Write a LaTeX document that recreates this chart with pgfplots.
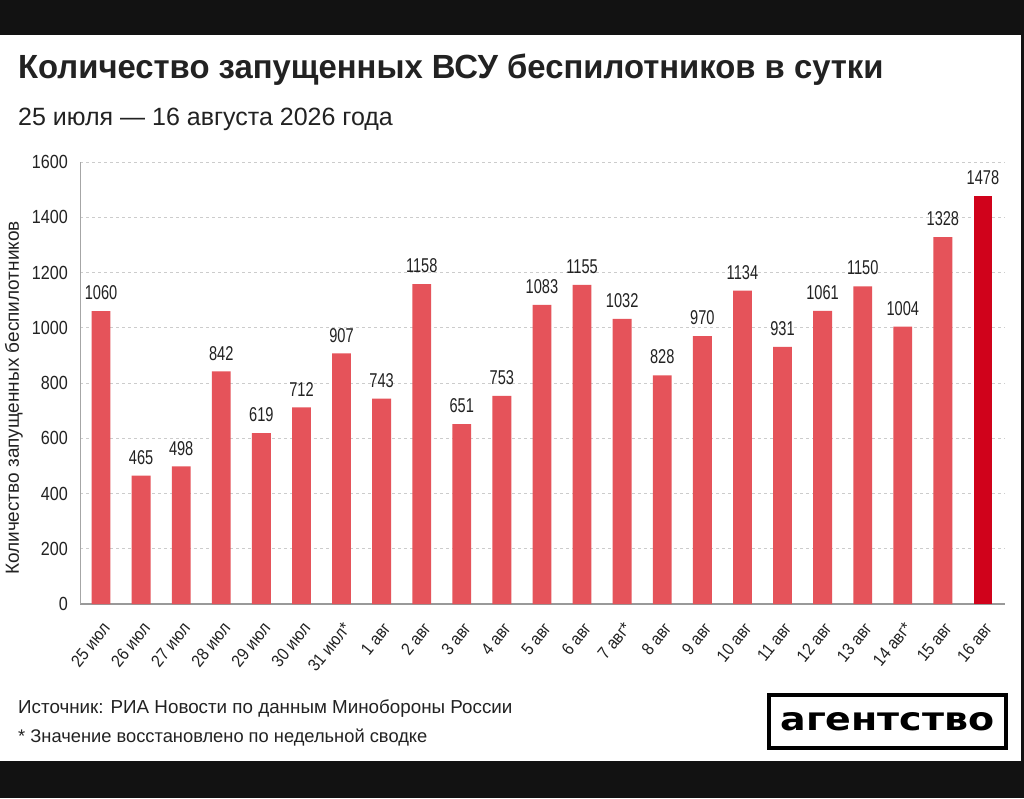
\documentclass[border=0pt]{standalone}
\usepackage{pgfplots}
\pgfplotsset{compat=1.18}
\usepackage{fontspec}
\setmainfont{Liberation Sans}
\newfontfamily\titlefont[FakeStretch=0.98]{Liberation Sans}
\newfontfamily\subfont{Liberation Sans}
\newfontfamily\condfont[FakeStretch=0.73]{Liberation Sans}
\newfontfamily\tickfont[FakeStretch=0.85]{Liberation Sans}
\newfontfamily\xtickfont[FakeStretch=0.88]{Liberation Sans}
\newfontfamily\logofont{DejaVu Sans}
\definecolor{barred}{HTML}{E5535A}
\definecolor{darkred}{HTML}{D0021B}
\definecolor{txt}{HTML}{222222}
\pgfplotstableread{
x y
0 1060
1 465
2 498
3 842
4 619
5 712
6 907
7 743
8 1158
9 651
10 753
11 1083
12 1155
13 1032
14 828
15 970
16 1134
17 931
18 1061
19 1150
20 1004
21 1328
}\maindata
\pgfplotstableread{
x y
22 1478
}\lastdata
\begin{document}
\begin{tikzpicture}
\path[use as bounding box] (0pt,0pt) rectangle (1024pt,798pt);
\fill[black!93] (0pt,0pt) rectangle (1024pt,798pt);
\fill[white] (0pt,37pt) rectangle (1021pt,763pt);
\begin{axis}[
  at={(80pt,194pt)}, anchor=south west,
  scale only axis, width=925pt, height=442pt,
  xmin=-0.524, xmax=22.55, ymin=0, ymax=1600,
  axis x line*=bottom, axis y line*=left,
  x axis line style={draw=black!40, line width=1.6pt, -},
  y axis line style={draw=black!35, line width=1pt, -},
  ytick={0,200,...,1600},
  xtick={0,...,22},
  xticklabels={25 июл,26 июл,27 июл,28 июл,29 июл,30 июл,31 июл*,1 авг,2 авг,3 авг,4 авг,5 авг,6 авг,7 авг*,8 авг,9 авг,10 авг,11 авг,12 авг,13 авг,14 авг*,15 авг,16 авг},
  major tick length=0pt,
  ymajorgrids,
  grid style={draw=black!20, line width=0.7pt, dash pattern=on 3pt off 3pt},
  /pgf/number format/assume math mode=true,
  /pgf/number format/1000 sep={},
  yticklabel style={font=\tickfont\fontsize{19}{22}\selectfont, text=txt, anchor=east, inner sep=0pt, xshift=-12pt},
  xticklabel style={font=\xtickfont\fontsize{17.5}{20}\selectfont, text=txt, rotate=51, anchor=north east, inner sep=0pt, xshift=-13pt, yshift=-11pt},
  ybar, bar shift=0pt, bar width=0.47,
  nodes near coords,
  every node near coord/.append style={font=\condfont\fontsize{20}{24}\selectfont, text=txt, anchor=south, inner sep=0pt, yshift=11pt},
  clip=false,
]
\addplot[fill=barred, draw=none] table[x=x,y=y] {\maindata};
\addplot[fill=darkred, draw=none] table[x=x,y=y] {\lastdata};
\end{axis}
\node[anchor=base west, inner sep=0pt, text=txt] at (18pt,719pt) {\titlefont\bfseries\fontsize{33.5}{40}\selectfont Количество запущенных ВСУ беспилотников в сутки};
\node[anchor=base west, inner sep=0pt, text=txt] at (18pt,672pt) {\subfont\fontsize{25}{30}\selectfont 25 июля — 16 августа 2026 года};
\node[rotate=90, inner sep=0pt, text=txt] at (14pt,400pt) {\subfont\fontsize{19}{22}\selectfont Количество запущенных беспилотников};
\node[anchor=base west, inner sep=0pt, text=txt] at (18pt,85pt) {\subfont\fontsize{18.8}{22}\selectfont Источник: РИА Новости по данным Минобороны России};
\node[anchor=base west, inner sep=0pt, text=txt] at (18pt,56pt) {\subfont\fontsize{18.3}{22}\selectfont * Значение восстановлено по недельной сводке};
\draw[black, line width=4pt] (769pt,50pt) rectangle (1006pt,103pt);
\node[inner sep=0pt] at (887.5pt,76.5pt) {\resizebox{214pt}{18pt}{\logofont\bfseries агентство}};
\end{tikzpicture}
\end{document}
